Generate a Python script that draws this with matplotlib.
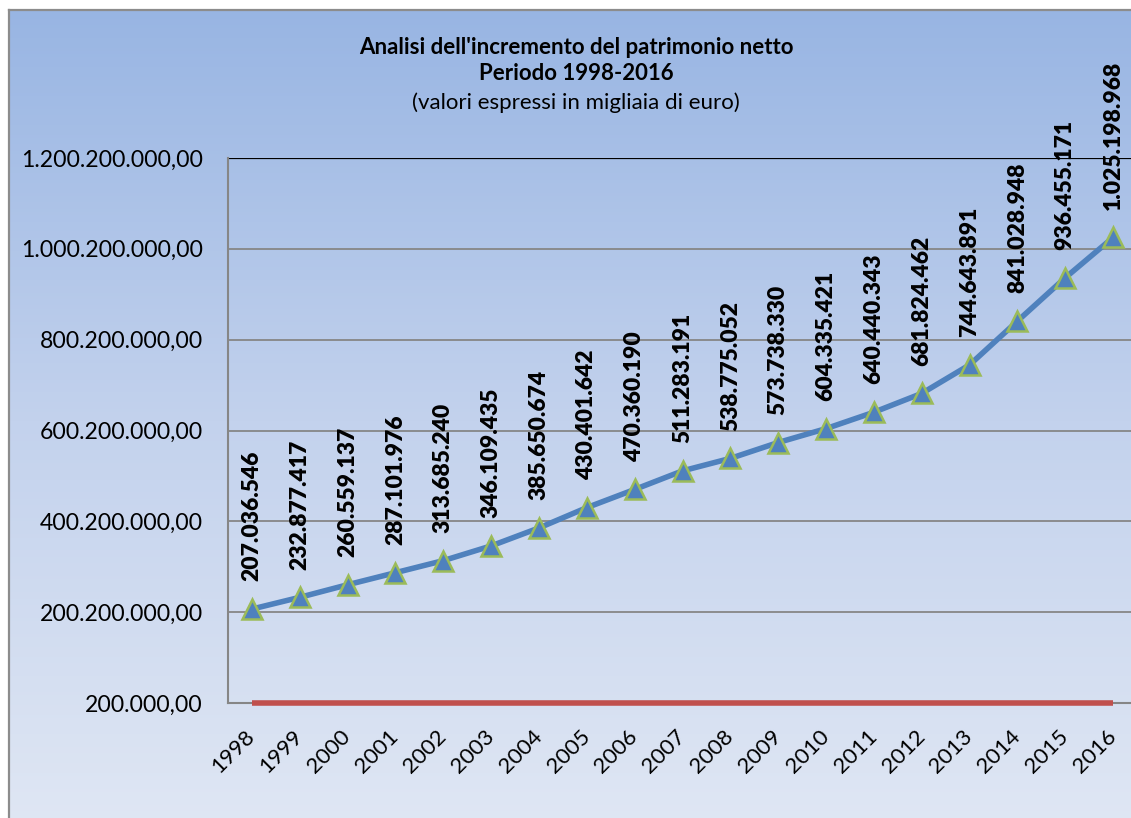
import numpy as np
import matplotlib
matplotlib.use("Agg")
import matplotlib.pyplot as plt
from matplotlib.colors import LinearSegmentedColormap

plt.rcParams['font.family'] = ['Lato', 'DejaVu Sans']

years = [str(y) for y in range(1998, 2017)]
values = [207036546, 232877417, 260559137, 287101976, 313685240, 346109435,
          385650674, 430401642, 470360190, 511283191, 538775052, 573738330,
          604335421, 640440343, 681824462, 744643891, 841028948, 936455171,
          1025198968]
baseline = [200000] * len(years)
yticks = [200000, 200200000, 400200000, 600200000, 800200000, 1000200000, 1200200000]

title_lines = ["Analisi dell'incremento del patrimonio netto", "Periodo 1998-2016",
               "(valori espressi in migliaia di euro)"]


def it_int(v):
    return f"{v:,}".replace(",", ".")


def it_dec(v):
    return f"{v:,.2f}".replace(",", "X").replace(".", ",").replace("X", ".")


W, H = 1131, 818
fig = plt.figure(figsize=(W / 100, H / 100), dpi=100)
fig.patch.set_facecolor("white")

# background (chart area) with gradient: darker blue on top, pale at bottom
bg = fig.add_axes([9 / W, -0.02, 1.0, 1 - 10 / H + 0.02])
cmap = LinearSegmentedColormap.from_list("g", ["#98b5e3", "#c3d2ed", "#e0e7f4"])
grad = np.linspace(0, 1, 256).reshape(-1, 1)
bg.imshow(grad, aspect="auto", cmap=cmap, extent=[0, 1, 0, 1], origin="upper")
bg.set_xticks([]); bg.set_yticks([])
for s in ["right", "bottom"]:
    bg.spines[s].set_visible(False)
for s in ["left", "top"]:
    bg.spines[s].set_color("#8c8c8c")
    bg.spines[s].set_linewidth(1.6)
bg.set_zorder(0)

# plot area
left, right, top, bottom = 228, 1137, 158, 703
ax = fig.add_axes([left / W, 1 - bottom / H, (right - left) / W, (bottom - top) / H])
ax.patch.set_alpha(0)
ax.set_zorder(1)
x = np.arange(len(years))
ax.set_xlim(-0.5, len(years) - 0.5)
ax.set_ylim(yticks[0], yticks[-1])

for yt in yticks[1:-1]:
    ax.axhline(yt, color="#868686", lw=1.3, zorder=1)
ax.axhline(yticks[-1], color="black", lw=1.6, zorder=1)

ax.plot(x, baseline, color="#c0504d", lw=4, solid_capstyle="butt", zorder=3, clip_on=False)
ax.plot(x, values, color="#4f81bd", lw=4, zorder=4, marker="^", markersize=14,
        markerfacecolor="#4f81bd", markeredgecolor="#9bbb59", markeredgewidth=1.8)

for xi, v in zip(x, values):
    ax.annotate(it_int(v), (xi, v), xytext=(0, 20), textcoords="offset points",
                rotation=90, ha="center", va="bottom", fontsize=16.5,
                fontweight="heavy", color="black", zorder=5, annotation_clip=False)

ax.set_yticks(yticks)
ax.set_yticklabels([it_dec(v) for v in yticks], fontsize=16.6)
ax.set_xticks(x)
ax.set_xticklabels(years, fontsize=16, rotation=45, ha="right",
                   rotation_mode="anchor")
for lbl in ax.get_xticklabels():
    lbl.set_va("center")
ax.tick_params(axis="both", length=0, colors="black")
ax.tick_params(axis="y", pad=18)
ax.tick_params(axis="x", pad=22)

for s in ["top", "right"]:
    ax.spines[s].set_visible(False)
ax.spines["left"].set_color("#868686")
ax.spines["left"].set_linewidth(1.5)
ax.spines["bottom"].set_color("#868686")
ax.spines["bottom"].set_linewidth(1.5)

fig.text(576 / W, 1 - 47 / H, title_lines[0], ha="center", va="center",
         fontsize=16, fontweight="bold")
fig.text(576 / W, 1 - 74 / H, title_lines[1], ha="center", va="center",
         fontsize=16, fontweight="bold")
fig.text(576 / W, 1 - 103 / H, title_lines[2], ha="center", va="center",
         fontsize=16)

fig.savefig("out.png", dpi=100)
